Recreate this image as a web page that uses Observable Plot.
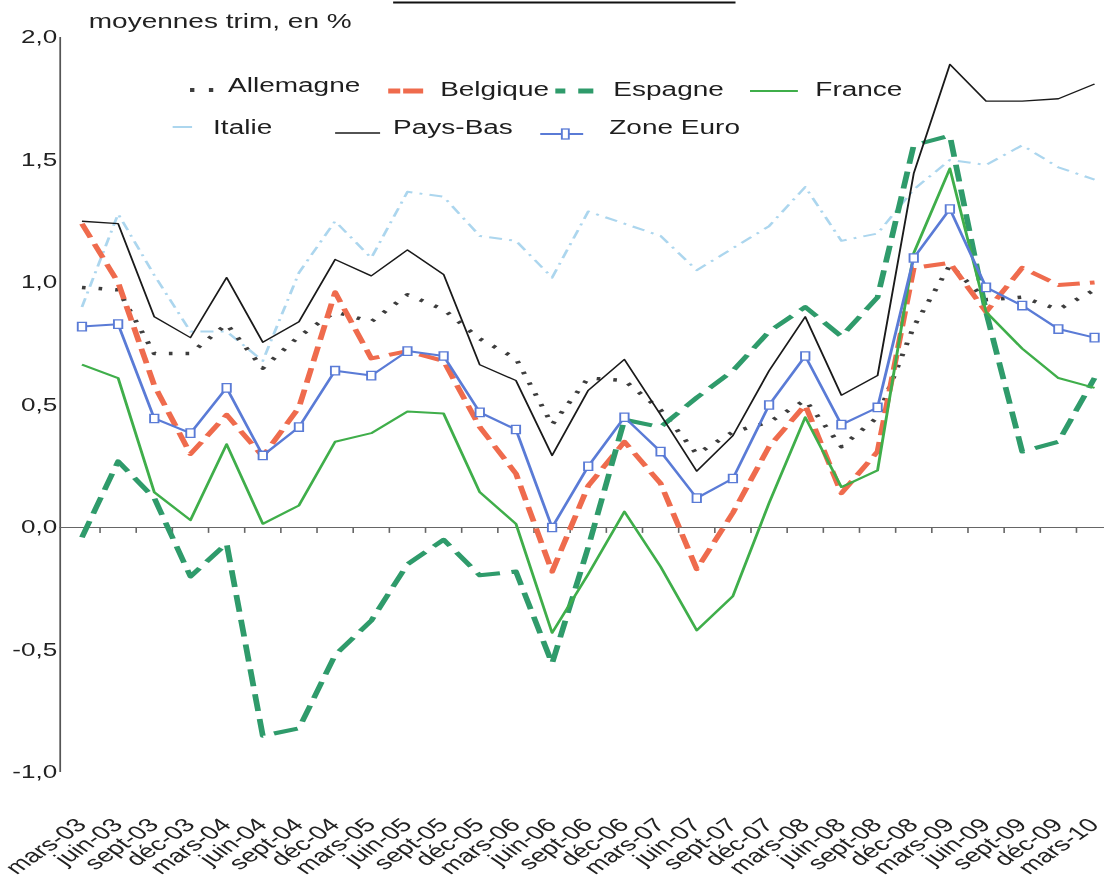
<!DOCTYPE html>
<html>
<head>
<meta charset="utf-8">
<script src="https://cdn.jsdelivr.net/npm/d3@7"></script>
<script src="https://cdn.jsdelivr.net/npm/@observablehq/plot@0.6"></script>
<style>
  html, body { margin: 0; padding: 0; background: #fff; }
  #wrap { position: relative; width: 1104px; height: 881px; overflow: hidden; }
  #stretch { position: absolute; left: 0; top: 0; width: 761px; height: 881px;
             transform: scaleX(1.4507); transform-origin: 0 0; }
  #stretch svg { position: absolute; left: 0; top: 0; }
</style>
</head>
<body>
<div id="wrap"><div id="stretch"></div></div>
<script>
// ---- data (quarterly averages, %) ----
const labels = ["mars-03","juin-03","sept-03","déc-03","mars-04","juin-04","sept-04","déc-04",
  "mars-05","juin-05","sept-05","déc-05","mars-06","juin-06","sept-06","déc-06",
  "mars-07","juin-07","sept-07","déc-07","mars-08","juin-08","sept-08","déc-08",
  "mars-09","juin-09","sept-09","déc-09","mars-10"];

const allemagne = [0.98,0.97,0.71,0.71,0.83,0.65,0.78,0.88,0.84,0.95,0.89,0.77,0.69,0.42,0.61,0.60,0.48,0.30,0.39,0.43,0.52,0.33,0.45,0.82,1.07,0.93,0.94,0.89,0.97];
const belgique  = [1.24,1.00,0.58,0.30,0.46,0.29,0.49,0.96,0.69,0.72,0.68,0.41,0.22,-0.18,0.17,0.35,0.18,-0.17,0.06,0.33,0.50,0.14,0.31,1.06,1.08,0.88,1.06,0.99,1.00];
const espagne   = [-0.04,0.27,0.12,-0.20,-0.065,-0.85,-0.82,-0.52,-0.38,-0.15,-0.05,-0.195,-0.18,-0.555,-0.08,0.44,0.41,0.53,0.64,0.80,0.90,0.78,0.94,1.56,1.60,0.88,0.31,0.35,0.61];
const france    = [0.665,0.61,0.144,0.03,0.34,0.015,0.09,0.35,0.385,0.473,0.465,0.144,0.015,-0.43,-0.19,0.065,-0.16,-0.42,-0.28,0.10,0.45,0.165,0.233,1.12,1.465,0.88,0.73,0.61,0.57];
const italie    = [0.90,1.28,1.03,0.80,0.80,0.68,1.04,1.25,1.10,1.37,1.35,1.19,1.17,1.02,1.29,1.24,1.19,1.05,1.14,1.23,1.39,1.17,1.20,1.38,1.50,1.48,1.56,1.47,1.42];
const paysBas   = [1.25,1.24,0.86,0.775,1.02,0.756,0.84,1.094,1.027,1.133,1.033,0.664,0.60,0.294,0.56,0.686,0.46,0.23,0.375,0.64,0.86,0.54,0.62,1.445,1.89,1.74,1.74,1.75,1.81];
const zoneEuro  = [0.82,0.83,0.445,0.385,0.57,0.294,0.41,0.64,0.62,0.72,0.70,0.47,0.40,0.0,0.25,0.45,0.31,0.12,0.20,0.50,0.70,0.42,0.49,1.10,1.30,0.98,0.906,0.81,0.775];

const yTicks = [-1, -0.5, 0, 0.5, 1, 1.5, 2];
const title = "moyennes trim, en %";

// ---- styles ----
const series = [
  {name: "Italie",    values: italie,    stroke: "#acd6ee", width: 2,   dash: "9,5,2,5"},
  {name: "Allemagne", values: allemagne, stroke: "#3d3d3d", width: 3.5, dash: "2.5,9"},
  {name: "Belgique",  values: belgique,  stroke: "#ef6b4d", width: 4,   dash: "15,7"},
  {name: "Espagne",   values: espagne,   stroke: "#2f9b6b", width: 4,   dash: "17,8"},
  {name: "France",    values: france,    stroke: "#3fae4a", width: 2,   dash: null},
  {name: "Pays-Bas",  values: paysBas,   stroke: "#1a1a1a", width: 1.3, dash: null},
  {name: "Zone Euro", values: zoneEuro,  stroke: "#5a7bd6", width: 2,   dash: null}
];
const S = 1.4507; // horizontal stretch of the whole figure
const FONT = "'Liberation Sans', Arial, sans-serif";

const idx = labels.map((_, i) => i);
const rows = s => labels.map((q, i) => ({i, q, v: s.values[i]}));

// narrow square so that it looks square after the horizontal stretch
const narrowSquare = {
  draw(ctx, size) {
    const r = Math.sqrt(size / Math.PI), w = r / S;
    ctx.moveTo(-w, -r); ctx.lineTo(w, -r); ctx.lineTo(w, r); ctx.lineTo(-w, r); ctx.closePath();
  }
};

const fr = d => d.toFixed(1).replace(".", ",");

const chart = Plot.plot({
  width: 761,
  height: 881,
  marginLeft: 41,
  marginRight: 0,
  marginTop: 37,
  marginBottom: 109,
  style: {fontFamily: FONT, fontSize: "18px", color: "#222", background: "transparent", overflow: "visible"},
  x: {type: "linear", domain: [0, labels.length - 1], insetLeft: 15, insetRight: 7, axis: null},
  y: {domain: [-1, 2], axis: null},
  marks: [
    Plot.axisY({ticks: yTicks, tickFormat: fr, tickSize: 0, tickPadding: 2, fontSize: 18, fill: "#222", label: null}),
    Plot.ruleX([0], {y1: -1, y2: 2, dx: -15, stroke: "#555", strokeWidth: 1.2}),
    Plot.ruleY([0], {stroke: "#666", strokeWidth: 1.2}),
    Plot.ruleX(idx.slice(0, -1), {x: d => d + 0.5, y1: 0, y2: -0.024, stroke: "#666", strokeWidth: 1.1}),
    ...series.map(s => Plot.line(rows(s), {
      x: "i", y: "v", stroke: s.stroke, strokeWidth: s.width,
      strokeDasharray: s.dash || undefined, strokeLinecap: "butt", strokeLinejoin: "round"
    })),
    Plot.dot(rows(series[6]), {x: "i", y: "v", symbol: narrowSquare, r: 4.2,
      stroke: "#5a7bd6", strokeWidth: 1.3, fill: "white"}),
    Plot.text(idx, {x: d => d, text: d => labels[d], frameAnchor: "bottom", rotate: -45,
      textAnchor: "end", lineAnchor: "top", dy: 44, dx: -5.5, fontSize: 19, fill: "#222"}),
    Plot.text([title], {text: d => d, frameAnchor: "top-left", dx: 19.7, dy: -16,
      textAnchor: "start", lineAnchor: "middle", fontSize: 19.3, fill: "#222"})
  ]
});

const host = document.getElementById("stretch");
host.appendChild(chart);

// ---- legend (inside the plot area, two rows) ----
const legendLayout = [
  {name: "Allemagne", tx: 157.2, ty: 85,  sy: 90,  x0: 131, x1: 150,  dash: "3,10",          w: 4},
  {name: "Belgique",  tx: 303.4, ty: 89,  sy: 91,  x0: 267.6, x1: 291.7, dash: "8.3,2,13.8", w: 5},
  {name: "Espagne",   tx: 422.8, ty: 89,  sy: 91,  x0: 382.8, x1: 409, dash: "6.9,8.9,10.4", w: 5},
  {name: "France",    tx: 562,   ty: 89,  sy: 91,  x0: 517, x1: 550,    dash: null,          w: 2},
  {name: "Italie",    tx: 146.9, ty: 127, sy: 127, x0: 119, x1: 132.4,  dash: null,          w: 2},
  {name: "Pays-Bas",  tx: 271,   ty: 127, sy: 133, x0: 231, x1: 262,    dash: null,          w: 1.3},
  {name: "Zone Euro", tx: 420,   ty: 127, sy: 134, x0: 372.4, x1: 402,  dash: null,          w: 2, marker: true}
];

const leg = d3.create("svg")
  .attr("width", 761).attr("height", 881)
  .style("font-family", FONT).style("pointer-events", "none");

// cut-off heading rule at the very top of the page
leg.append("rect").attr("x", 271).attr("y", 1.5).attr("width", 236).attr("height", 2).attr("fill", "#111");

for (const L of legendLayout) {
  const s = series.find(d => d.name === L.name);
  const g = leg.append("g");
  g.append("line")
    .attr("x1", L.x0).attr("x2", L.x1).attr("y1", L.sy).attr("y2", L.sy)
    .attr("stroke", s.stroke).attr("stroke-width", L.w)
    .attr("stroke-dasharray", L.dash);
  if (L.marker) {
    const cx = (L.x0 + L.x1) / 2 + 2.5;
    g.append("rect").attr("x", cx - 2.4).attr("y", L.sy - 5).attr("width", 4.8).attr("height", 10)
      .attr("fill", "white").attr("stroke", s.stroke).attr("stroke-width", 1.3);
  }
  g.append("text")
    .attr("x", L.tx).attr("y", L.ty).attr("dy", "0.35em")
    .attr("font-size", 19.3).attr("fill", "#1e1e1e")
    .text(L.name);
}
host.appendChild(leg.node());
</script>
</body>
</html>
